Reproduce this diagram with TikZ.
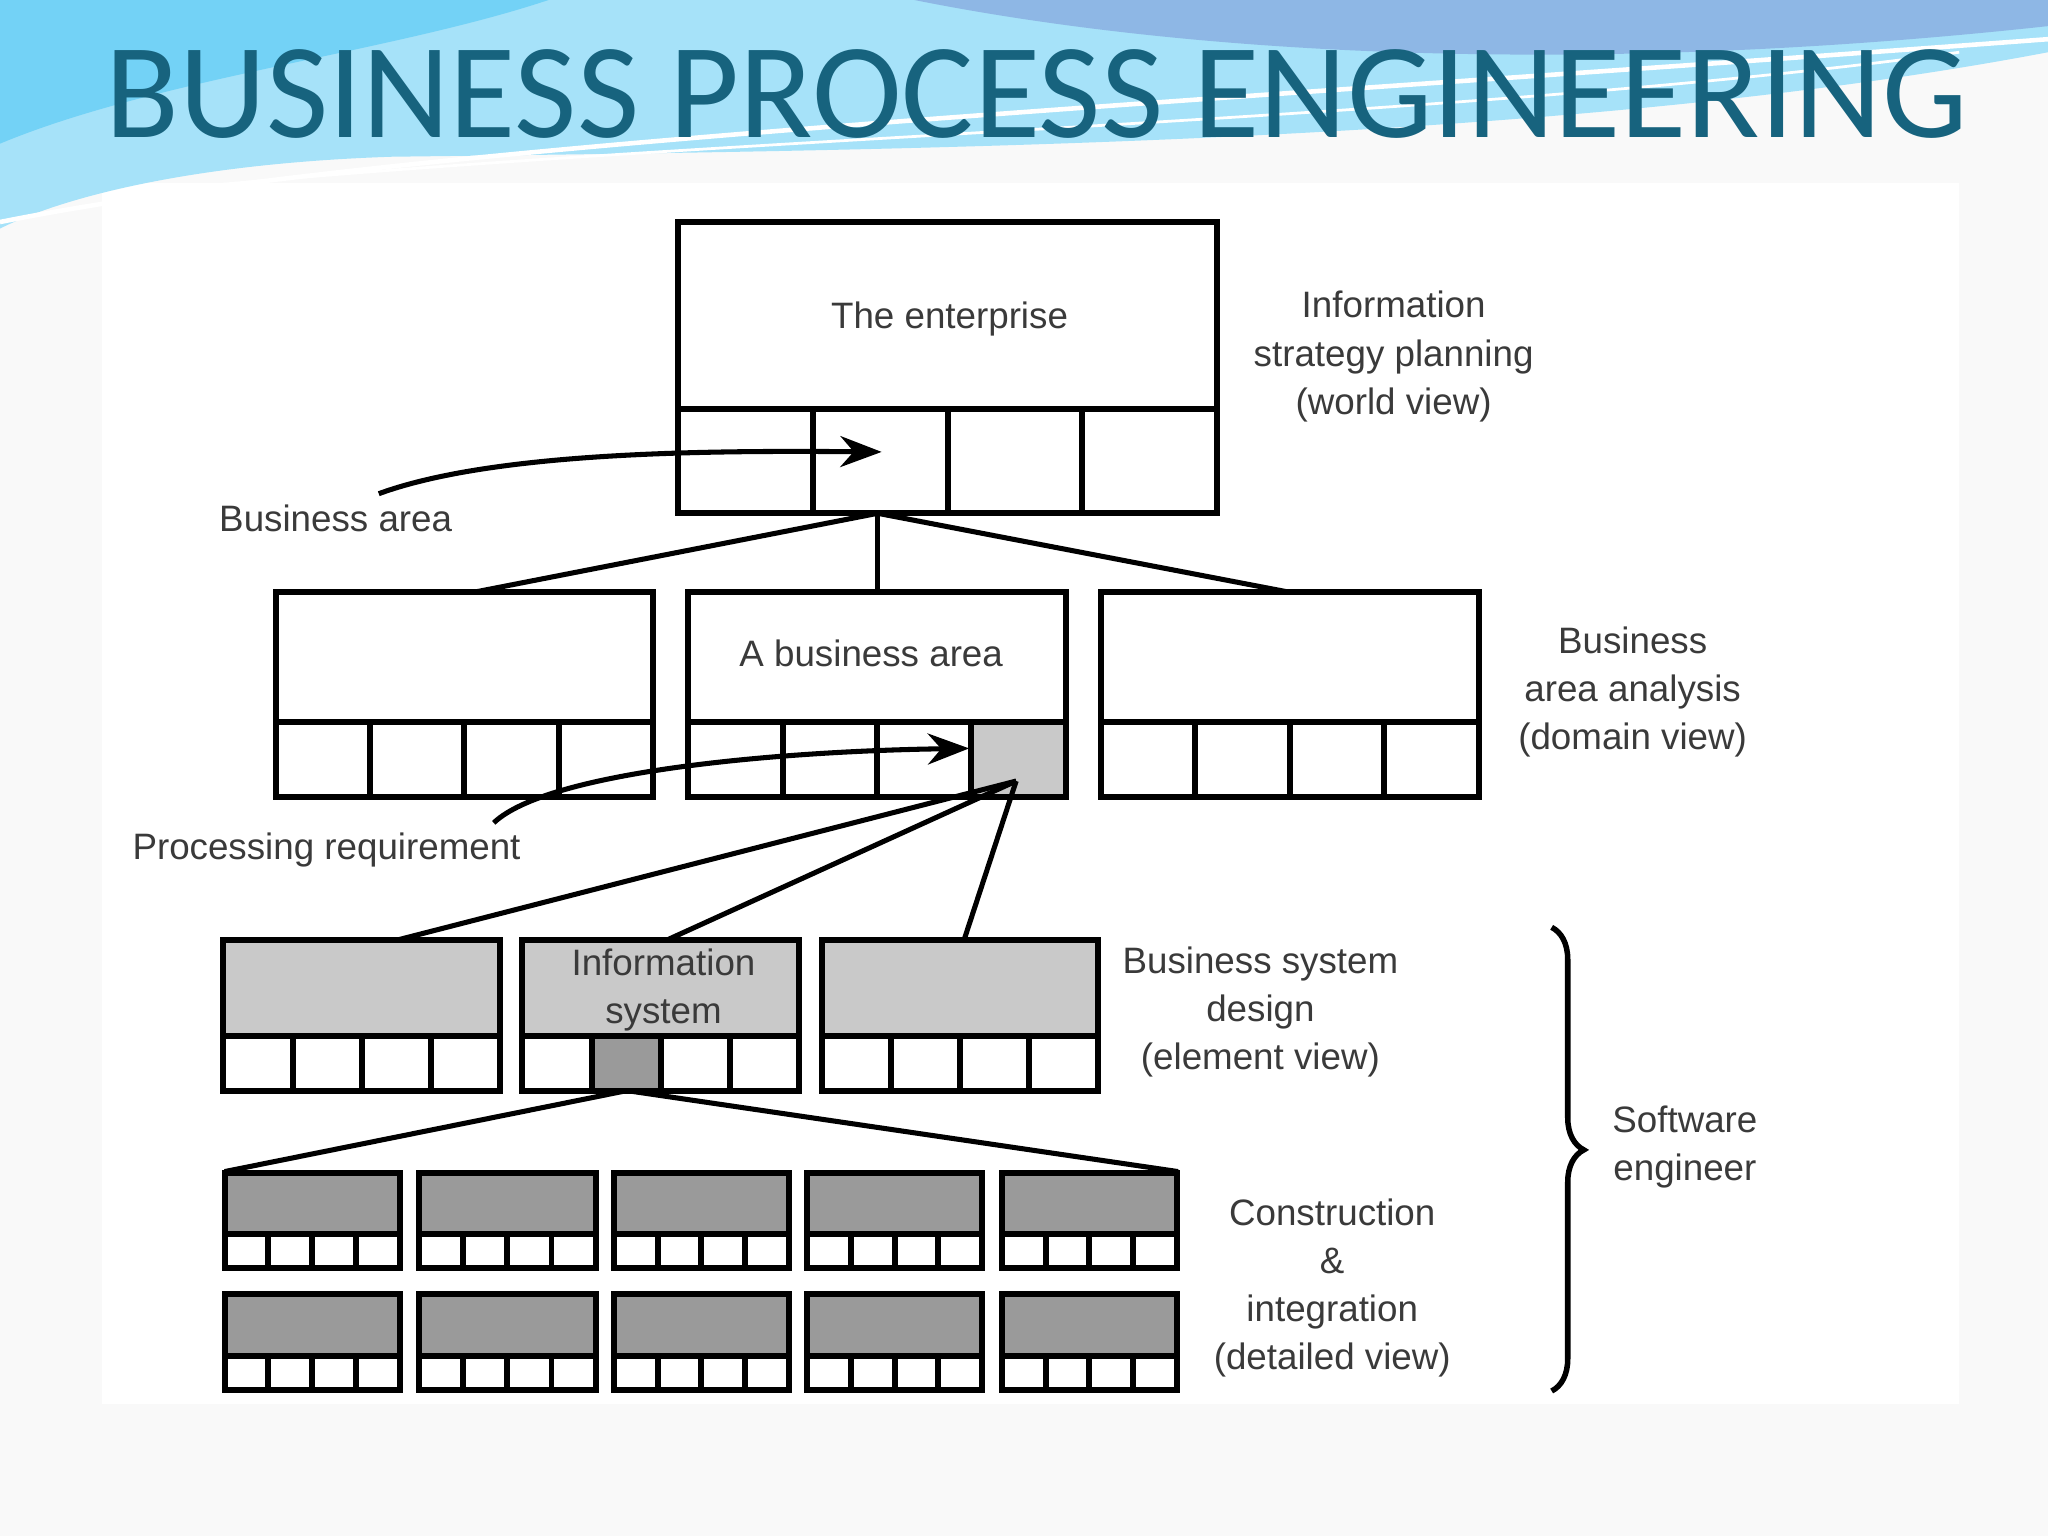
\documentclass[tikz,border=0pt]{standalone}
\usepackage{fontspec}
\setmainfont{Liberation Sans}
\newfontfamily\titlefont{Carlito}
\usetikzlibrary{decorations.pathreplacing,arrows.meta}
\definecolor{titleblue}{HTML}{17637E}
\definecolor{txtgray}{HTML}{3A3A3A}
\definecolor{lightsh}{HTML}{C9C9C9}
\definecolor{darksh}{HTML}{9A9A9A}
\tikzset{
  bx/.style={draw=black,line width=1.3pt},
  ln/.style={draw=black,line width=1.1pt},
  lbl/.style={font=\fontsize{8}{10.5}\selectfont,text=txtgray,align=center,inner sep=0pt},
}
\newcommand{\cellbox}[7]{% name, x1,y1,x2,y2, stripy, topfill
  \fill[#7] (#2,#3) rectangle (#4,#6);
  \draw[bx] (#2,#3) rectangle (#4,#5);
  \draw[bx] (#2,#6) -- (#4,#6);
  \foreach \k in {1,2,3} {\draw[bx] ({#2+\k*(#4-#2)/4},#6) -- ({#2+\k*(#4-#2)/4},#5);}
  \coordinate (#1) at ({(#2+#4)/2},#3);
}
\begin{document}
\begin{tikzpicture}[x=0.01cm,y=-0.01cm]
\useasboundingbox (0,0) rectangle (1568,1176);
\fill[white!95!gray] (0,0) rectangle (1568,1176);
\fill[white] (78,140) rectangle (1500,1075);
% banner
\fill[cyan!35!white] (0,0) -- (1568,0) -- (1568,40) .. controls (1200,110) and (700,115) .. (300,120) .. controls (150,125) and (50,150) .. (0,175) -- cycle;
\fill[cyan!60!blue!45!white] (0,0) -- (700,0) .. controls (900,40) and (1200,60) .. (1568,20) -- (1568,0) -- (0,0);
\fill[cyan!55!white] (0,0) -- (420,0) .. controls (300,40) and (120,60) .. (0,110) -- cycle;
\draw[white,line width=1pt] (0,170) .. controls (300,110) and (900,80) .. (1568,30);
\draw[white,line width=0.6pt] (80,150) .. controls (500,105) and (1100,95) .. (1500,40);
\node[anchor=base west,inner sep=0pt,text=titleblue,font=\titlefont\fontsize{29.5}{30}\selectfont] (title) at (80,105) {BUSINESS PROCESS ENGINEERING};
% level 1
\cellbox{ent}{519}{170}{932}{393}{313}{white}
\node[lbl] (tent) at (727,244) {The enterprise};
\node[lbl] (isp) at (1067,273) {Information\\strategy planning\\(world view)};
\node[lbl] (ba) at (257,397) {Business area};
\coordinate (baarr) at (675,346);
\draw[ln,-{Stealth[length=9pt]}] (290,378) .. controls (380,345) and (550,345) .. (baarr);
% level 2
\cellbox{b1}{211}{453}{500}{610}{553}{white}
\fill[lightsh] (744,553) rectangle (816,610);
\cellbox{b2}{527}{453}{816}{610}{553}{white}
\cellbox{b3}{843}{453}{1132}{610}{553}{white}
\coordinate (entb) at (672,393);
\draw[ln] (entb) -- (365,453);
\draw[ln] (entb) -- (672,453);
\draw[ln] (entb) -- (985,453);
\node[lbl] (tba) at (667,500) {A business area};
\node[lbl] (baa) at (1250,530) {Business\\area analysis\\(domain view)};
\node[lbl] (pr) at (250,651) {Processing requirement};
\coordinate (prarr) at (742,573);
\draw[ln,-{Stealth[length=9pt]}] (378,630) .. controls (420,590) and (600,575) .. (prarr);
\coordinate (prc) at (778,598);
\draw[ln] (prc) -- (303,720);
\draw[ln] (prc) -- (510,720);
\draw[ln] (prc) -- (738,720);
% level 3
\cellbox{c1}{171}{720}{383}{835}{793}{lightsh}
\fill[darksh] (453,793) rectangle (506,835);
\cellbox{c2}{400}{720}{612}{835}{793}{lightsh}
\cellbox{c3}{629}{720}{841}{835}{793}{lightsh}
\node[lbl] (tis) at (508,758) {Information\\system};
\node[lbl] (bsd) at (965,775) {Business system\\design\\(element view)};
\coordinate (isc) at (480,835);
\draw[ln] (isc) -- (172,897);
\draw[ln] (isc) -- (902,897);
% level 4
\foreach \x/\xx [count=\i] in {172/306,321/456,470/604,618/752,767/901} {
  \cellbox{d\i}{\x}{898}{\xx}{971}{945}{darksh}
  \cellbox{e\i}{\x}{991}{\xx}{1064}{1038}{darksh}
}
\node[lbl] (ci) at (1020,986) {Construction\\\&\\integration\\(detailed view)};
\coordinate (bt) at (1188,710);
\coordinate (bb) at (1188,1065);
\draw[line width=1.2pt,decorate,decoration={brace,amplitude=7pt,aspect=0.48}] (bt) -- (bb);
\node[lbl] (se) at (1290,878) {Software\\engineer};
\end{tikzpicture}
\end{document}
